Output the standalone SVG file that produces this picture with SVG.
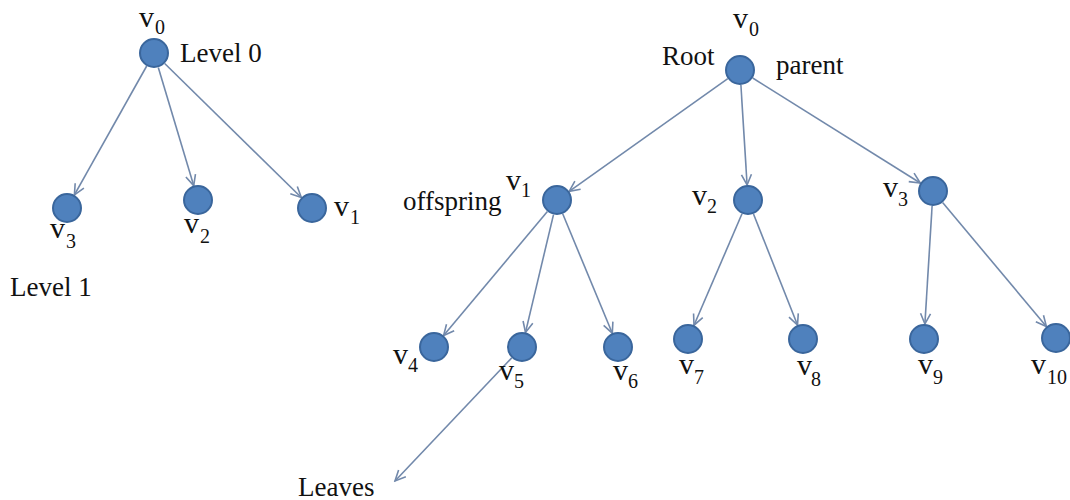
<svg xmlns="http://www.w3.org/2000/svg" width="1070" height="500" viewBox="0 0 1070 500">
<style>
.n{fill:#4f81bd;stroke:#3a669c;stroke-width:2}
.e{stroke:#7289ab;stroke-width:1.6;fill:none;marker-end:url(#ah)}
text{font-family:"Liberation Serif","Times New Roman",serif;fill:#111}
.w{font-size:27px}
.v{font-size:30px}
.s{font-size:20px}
</style>
<defs>
<marker id="ah" markerUnits="userSpaceOnUse" markerWidth="14" markerHeight="14" viewBox="0 0 14 14" refX="12.5" refY="7" orient="auto">
<path d="M2,2 L12.5,7 L2,12" fill="none" stroke="#7289ab" stroke-width="1.6"/>
</marker>
</defs>
<rect width="1070" height="500" fill="#fff"/>
<g id="connectors">
<line class="e" x1="146.7" y1="66" x2="74.4" y2="194.9"/>
<line class="e" x1="158.3" y1="67.4" x2="193.7" y2="185.6"/>
<line class="e" x1="164.7" y1="63.5" x2="301.3" y2="197.5"/>
<line class="e" x1="727.8" y1="78.7" x2="569.2" y2="191.3"/>
<line class="e" x1="740.9" y1="85" x2="747.1" y2="185"/>
<line class="e" x1="752.7" y1="78" x2="920.3" y2="183"/>
<line class="e" x1="547.4" y1="211.5" x2="443.6" y2="335.5"/>
<line class="e" x1="553.5" y1="214.6" x2="525.5" y2="332.4"/>
<line class="e" x1="562.7" y1="213.8" x2="612.3" y2="333.2"/>
<line class="e" x1="742" y1="213.8" x2="694" y2="325.2"/>
<line class="e" x1="753.5" y1="214" x2="797.5" y2="325"/>
<line class="e" x1="932.1" y1="206" x2="924.9" y2="324"/>
<line class="e" x1="942.6" y1="202.5" x2="1046.4" y2="326.5"/>
<line class="e" x1="511.7" y1="357.9" x2="395" y2="481"/>
</g>
<g id="L-v0"><circle class="n" cx="154" cy="53" r="14"/><text class="v" x="139" y="27">v</text><text class="s" x="155" y="34">0</text></g>
<g id="L-v3"><circle class="n" cx="67" cy="208" r="14"/><text class="v" x="50" y="238">v</text><text class="s" x="66" y="248">3</text></g>
<g id="L-v2"><circle class="n" cx="198" cy="200" r="14"/><text class="v" x="184" y="233">v</text><text class="s" x="200" y="243">2</text></g>
<g id="L-v1"><circle class="n" cx="312" cy="208" r="14"/><text class="v" x="334" y="216">v</text><text class="s" x="350" y="224">1</text></g>
<g id="label-level0"><text class="w" x="180" y="62">Level 0</text></g>
<g id="label-level1"><text class="w" x="10" y="296">Level 1</text></g>
<g id="R-v0"><circle class="n" cx="740" cy="70" r="14"/><text class="v" x="733" y="28">v</text><text class="s" x="749" y="36">0</text></g>
<g id="label-root"><text class="w" x="662" y="65">Root</text></g>
<g id="label-parent"><text class="w" x="776" y="74">parent</text></g>
<g id="R-v1"><circle class="n" cx="557" cy="200" r="14"/><text class="v" x="506" y="190">v</text><text class="s" x="521" y="197">1</text></g>
<g id="label-offspring"><text class="w" x="403" y="210">offspring</text></g>
<g id="R-v2"><circle class="n" cx="748" cy="200" r="14"/><text class="v" x="692" y="205">v</text><text class="s" x="707" y="213">2</text></g>
<g id="R-v3"><circle class="n" cx="933" cy="191" r="14"/><text class="v" x="883" y="197">v</text><text class="s" x="898" y="206">3</text></g>
<g id="R-v4"><circle class="n" cx="434" cy="347" r="14"/><text class="v" x="393" y="364">v</text><text class="s" x="408" y="372">4</text></g>
<g id="R-v5"><circle class="n" cx="522" cy="347" r="14"/><text class="v" x="499" y="380">v</text><text class="s" x="514" y="388">5</text></g>
<g id="R-v6"><circle class="n" cx="618" cy="347" r="14"/><text class="v" x="613" y="380">v</text><text class="s" x="628" y="388">6</text></g>
<g id="R-v7"><circle class="n" cx="688" cy="339" r="14"/><text class="v" x="679" y="374">v</text><text class="s" x="694" y="384">7</text></g>
<g id="R-v8"><circle class="n" cx="803" cy="339" r="14"/><text class="v" x="797" y="375">v</text><text class="s" x="811" y="386">8</text></g>
<g id="R-v9"><circle class="n" cx="924" cy="339" r="14"/><text class="v" x="918" y="374">v</text><text class="s" x="933" y="384">9</text></g>
<g id="R-v10"><circle class="n" cx="1056" cy="338" r="14"/><text class="v" x="1031" y="374">v</text><text class="s" x="1047" y="384">10</text></g>
<g id="label-leaves"><text class="w" x="298" y="496">Leaves</text></g>
</svg>
